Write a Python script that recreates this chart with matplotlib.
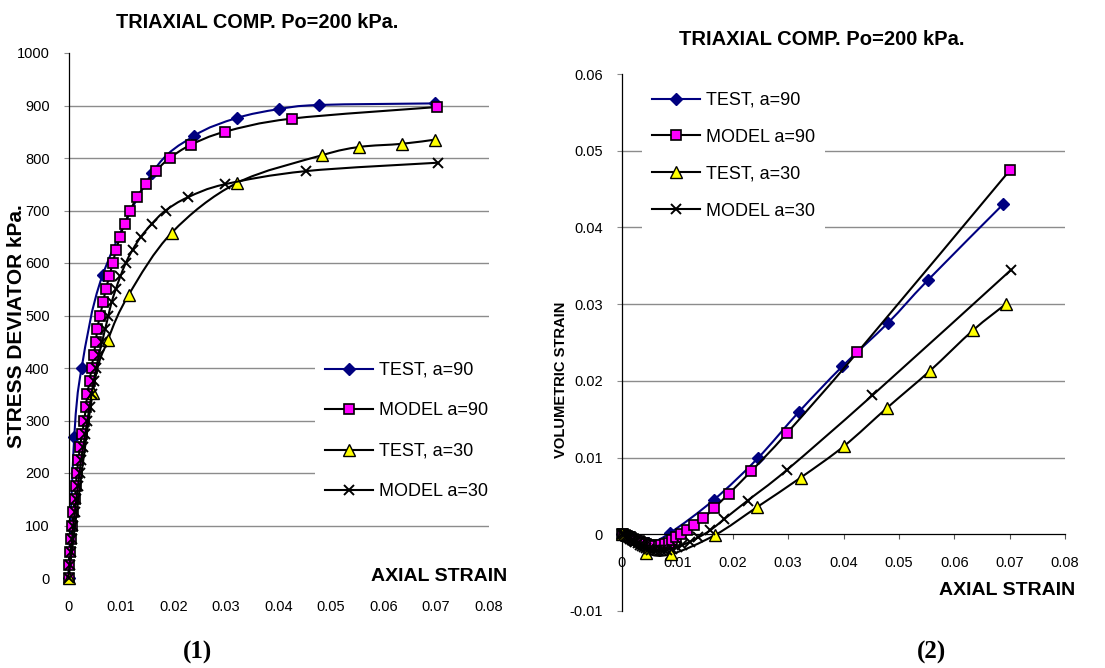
import numpy as np
import matplotlib
matplotlib.use('Agg')
import matplotlib.pyplot as plt
from matplotlib.path import Path
from matplotlib.patches import PathPatch
from matplotlib.lines import Line2D

# ---------------- data ----------------
series_labels = ['TEST, a=90', 'MODEL a=90', 'TEST, a=30', 'MODEL a=30']

# Plot (1): stress deviator vs axial strain
test90_eps = [0, 0.0011, 0.0025, 0.0065, 0.0159, 0.0239, 0.0320, 0.0400, 0.0477, 0.0698]
test90_q = [0, 269, 400, 577, 771, 842, 876, 893, 901, 904]

model90_eps = [0, 0.0001, 0.0002, 0.0005, 0.0007, 0.0009, 0.0012, 0.0014, 0.0016, 0.0019,
               0.0022, 0.0026, 0.0030, 0.0033, 0.0036, 0.0040, 0.0044, 0.0048, 0.0052, 0.0055,
               0.0060, 0.0066, 0.0071, 0.0078, 0.0084, 0.0091, 0.0098, 0.0107, 0.0118, 0.0130,
               0.0147, 0.0166, 0.0193, 0.0233, 0.0298, 0.0425, 0.0701]
model90_q = [0, 25, 50, 75, 100, 125, 150, 175, 200, 225,
             250, 275, 300, 325, 350, 375, 400, 425, 450, 475,
             500, 525, 550, 575, 600, 625, 650, 675, 700, 725,
             750, 775, 800, 825, 850, 875, 897]

test30_eps = [0, 0.0046, 0.0075, 0.0115, 0.0197, 0.0320, 0.0482, 0.0554, 0.0635, 0.0698]
test30_q = [0, 352, 453, 540, 658, 752, 805, 821, 827, 835]

model30_eps = [0, 0.0002, 0.0004, 0.0007, 0.0009, 0.0012, 0.0015, 0.0018, 0.0021, 0.0024,
               0.0028, 0.0032, 0.0036, 0.0040, 0.0044, 0.0048, 0.0053, 0.0058, 0.0064, 0.0070,
               0.0076, 0.0082, 0.0090, 0.0099, 0.0109, 0.0122, 0.0138, 0.0159, 0.0185, 0.0227,
               0.0298, 0.0452, 0.0703]
model30_q = [0, 25, 50, 75, 100, 125, 150, 175, 200, 225,
             250, 275, 300, 325, 350, 375, 400, 425, 450, 475,
             500, 525, 550, 575, 600, 625, 650, 675, 700, 725,
             750, 775, 791]

# Plot (2): volumetric strain vs axial strain
vtest90_eps = [0, 0.0047, 0.0087, 0.0166, 0.0245, 0.0320, 0.0398, 0.0481, 0.0552, 0.0688]
vtest90_vol = [0, -0.0011, 0.0002, 0.0045, 0.0099, 0.0160, 0.0219, 0.0276, 0.0331, 0.0430]

vmodel90_vol = [0, 0, -0.0001, -0.0001, -0.0002, -0.0002, -0.0003, -0.0004, -0.0005, -0.0006,
                -0.0007, -0.0008, -0.0009, -0.0010, -0.0011, -0.0012, -0.0013, -0.0014, -0.0014, -0.0015,
                -0.0015, -0.0015, -0.0014, -0.0013, -0.0011, -0.0008, -0.0004, 0.0000, 0.0005, 0.0012,
                0.0021, 0.0034, 0.0053, 0.0082, 0.0132, 0.0237, 0.0475]

vtest30_eps = [0, 0.0043, 0.0088, 0.0168, 0.0243, 0.0323, 0.0401, 0.0479, 0.0556, 0.0634, 0.0693]
vtest30_vol = [0, -0.0024, -0.0026, -0.0001, 0.0035, 0.0074, 0.0115, 0.0165, 0.0213, 0.0266, 0.0300]

vmodel30_vol = [0, 0, -0.0001, -0.0002, -0.0003, -0.0004, -0.0006, -0.0007, -0.0009, -0.0010,
                -0.0012, -0.0014, -0.0015, -0.0017, -0.0018, -0.0019, -0.0020, -0.0021, -0.0021, -0.0021,
                -0.0021, -0.0020, -0.0019, -0.0017, -0.0014, -0.0010, -0.0004, 0.0005, 0.0020, 0.0044,
                0.0084, 0.0181, 0.0345]

x_ticks = [0, 0.01, 0.02, 0.03, 0.04, 0.05, 0.06, 0.07, 0.08]
x_ticklabels = ['0', '0.01', '0.02', '0.03', '0.04', '0.05', '0.06', '0.07', '0.08']
q_ticks = [0, 100, 200, 300, 400, 500, 600, 700, 800, 900, 1000]
q_ticklabels = ['0', '100', '200', '300', '400', '500', '600', '700', '800', '900', '1000']
v_ticks = [-0.01, 0, 0.01, 0.02, 0.03, 0.04, 0.05, 0.06]
v_ticklabels = ['-0.01', '0', '0.01', '0.02', '0.03', '0.04', '0.05', '0.06']

title_text = 'TRIAXIAL COMP. Po=200 kPa.'

# ---------------- styling ----------------
plt.rcParams['font.family'] = ['Liberation Sans', 'DejaVu Sans']
W, H = 1105, 668
NAVY = '#000080'
MAG = '#FF00FF'
YEL = '#FFFF00'
GRID = '#8c8c8c'

styles = [
    dict(color=NAVY, marker='D', ms=6, mfc=NAVY, mec=NAVY, mew=1.0),
    dict(color='black', marker='s', ms=7.5, mfc=MAG, mec='black', mew=1.2),
    dict(color='black', marker='^', ms=8, mfc=YEL, mec='black', mew=1.0),
    dict(color='black', marker='x', ms=7, mfc='black', mec='black', mew=1.4),
]
LW = 1.5


def fx(px):
    return px / W


def fy(py):
    return 1 - py / H


def smooth_path(x, y):
    pts = np.column_stack([np.asarray(x, float), np.asarray(y, float)])
    n = len(pts)
    verts = [pts[0]]
    codes = [Path.MOVETO]
    for i in range(n - 1):
        p0 = pts[i - 1] if i > 0 else pts[i]
        p1 = pts[i]
        p2 = pts[i + 1]
        p3 = pts[i + 2] if i + 2 < n else pts[i + 1]
        c1 = p1 + (p2 - p0) / 6.0
        c2 = p2 - (p3 - p1) / 6.0
        verts += [c1, c2, p2]
        codes += [Path.CURVE4] * 3
    return Path(verts, codes)


def draw_series(ax, x, y, st, z):
    ax.add_patch(PathPatch(smooth_path(x, y), fill=False, edgecolor=st['color'],
                           lw=LW, zorder=z, clip_on=False))
    ax.plot(x, y, ls='none', marker=st['marker'], ms=st['ms'], mfc=st['mfc'],
            mec=st['mec'], mew=st['mew'], zorder=z + 0.1, clip_on=False)


fig = plt.figure(figsize=(W / 100, H / 100), dpi=100)

ax1 = fig.add_axes([fx(68.5), fy(578), (488.5 - 68.5) / W, (578 - 53) / H])
ax2 = fig.add_axes([fx(622), fy(611), (1065 - 622) / W, (611 - 74) / H])

# ---- plot (1)
data1 = [(test90_eps, test90_q), (model90_eps, model90_q),
         (test30_eps, test30_q), (model30_eps, model30_q)]
for k, ((xx, yy), st) in enumerate(zip(data1, styles)):
    draw_series(ax1, xx, yy, st, 2 + k)
ax1.set_xlim(0, 0.08)
ax1.set_ylim(0, 1000)
ax1.set_xticks(x_ticks)
ax1.set_xticklabels(x_ticklabels)
ax1.set_yticks(q_ticks)
ax1.set_yticklabels(q_ticklabels)
for v in q_ticks[1:-1]:
    ax1.axhline(v, color=GRID, lw=1.0, zorder=0.5)
for s in ['top', 'right', 'bottom']:
    ax1.spines[s].set_visible(False)
ax1.spines['left'].set_linewidth(0.9)
ax1.spines['left'].set_color('black')
ax1.tick_params(axis='y', direction='out', length=3.6, width=0.8, color=GRID,
                pad=10, labelsize=10.5)
ax1.tick_params(axis='x', length=0, pad=16, labelsize=10.5)

# ---- plot (2)
data2 = [(vtest90_eps, vtest90_vol), (model90_eps, vmodel90_vol),
         (vtest30_eps, vtest30_vol), (model30_eps, vmodel30_vol)]
for k, ((xx, yy), st) in enumerate(zip(data2, styles)):
    draw_series(ax2, xx, yy, st, 2 + k)
ax2.set_xlim(0, 0.08)
ax2.set_ylim(-0.01, 0.06)
ax2.set_xticks(x_ticks)
ax2.set_xticklabels(x_ticklabels)
ax2.set_yticks(v_ticks)
ax2.set_yticklabels(v_ticklabels)
for v in v_ticks[2:-1]:
    ax2.axhline(v, color=GRID, lw=1.0, zorder=0.5)
for s in ['top', 'right']:
    ax2.spines[s].set_visible(False)
ax2.spines['bottom'].set_position(('data', 0))
for s in ['left', 'bottom']:
    ax2.spines[s].set_linewidth(0.9)
    ax2.spines[s].set_color('black')
ax2.tick_params(axis='y', direction='out', length=3.6, width=0.8, color=GRID,
                pad=10, labelsize=10.5)
ax2.tick_params(axis='x', direction='out', length=3.6, width=0.8, color='#555555',
                pad=12, labelsize=10.5)

# ---- legends
handles = [Line2D([0], [0], color=st['color'], lw=LW, marker=st['marker'], ms=st['ms'],
                  mfc=st['mfc'], mec=st['mec'], mew=st['mew']) for st in styles]
leg_kw = dict(loc='upper left', bbox_transform=fig.transFigure, borderaxespad=0,
              frameon=True, fancybox=False, edgecolor='none', facecolor='white',
              framealpha=1, fontsize=13, handlelength=2.66, handletextpad=0.33,
              borderpad=0.55)
leg1 = ax1.legend(handles, series_labels, bbox_to_anchor=(fx(315), fy(352)),
                  labelspacing=1.3, **leg_kw)
leg1.set_zorder(20)
leg2 = ax2.legend(handles, series_labels, bbox_to_anchor=(fx(642), fy(82)),
                  labelspacing=1.1, **leg_kw)
leg2.set_zorder(20)

# ---- texts
fig.text(fx(257), fy(28.3), title_text, ha='center', va='baseline',
         fontsize=14.3, fontweight='bold')
fig.text(fx(822), fy(45), title_text, ha='center', va='baseline',
         fontsize=14.5, fontweight='bold')
fig.text(fx(507), fy(581), 'AXIAL STRAIN', ha='right', va='baseline',
         fontsize=14, fontweight='bold')
fig.text(fx(1075), fy(595), 'AXIAL STRAIN', ha='right', va='baseline',
         fontsize=14, fontweight='bold')
fig.text(fx(17), fy(326), 'STRESS DEVIATOR kPa.', rotation=90, ha='center',
         va='center', fontsize=15, fontweight='bold')
fig.text(fx(561), fy(380), 'VOLUMETRIC STRAIN', rotation=90, ha='center',
         va='center', fontsize=10.6, fontweight='bold')
fig.text(fx(198), fy(659), '(1)', ha='center', va='baseline', fontsize=18,
         fontweight='bold', family=['Liberation Serif', 'DejaVu Serif'])
fig.text(fx(932), fy(659), '(2)', ha='center', va='baseline', fontsize=18,
         fontweight='bold', family=['Liberation Serif', 'DejaVu Serif'])

fig.savefig('out.png', dpi=100)
